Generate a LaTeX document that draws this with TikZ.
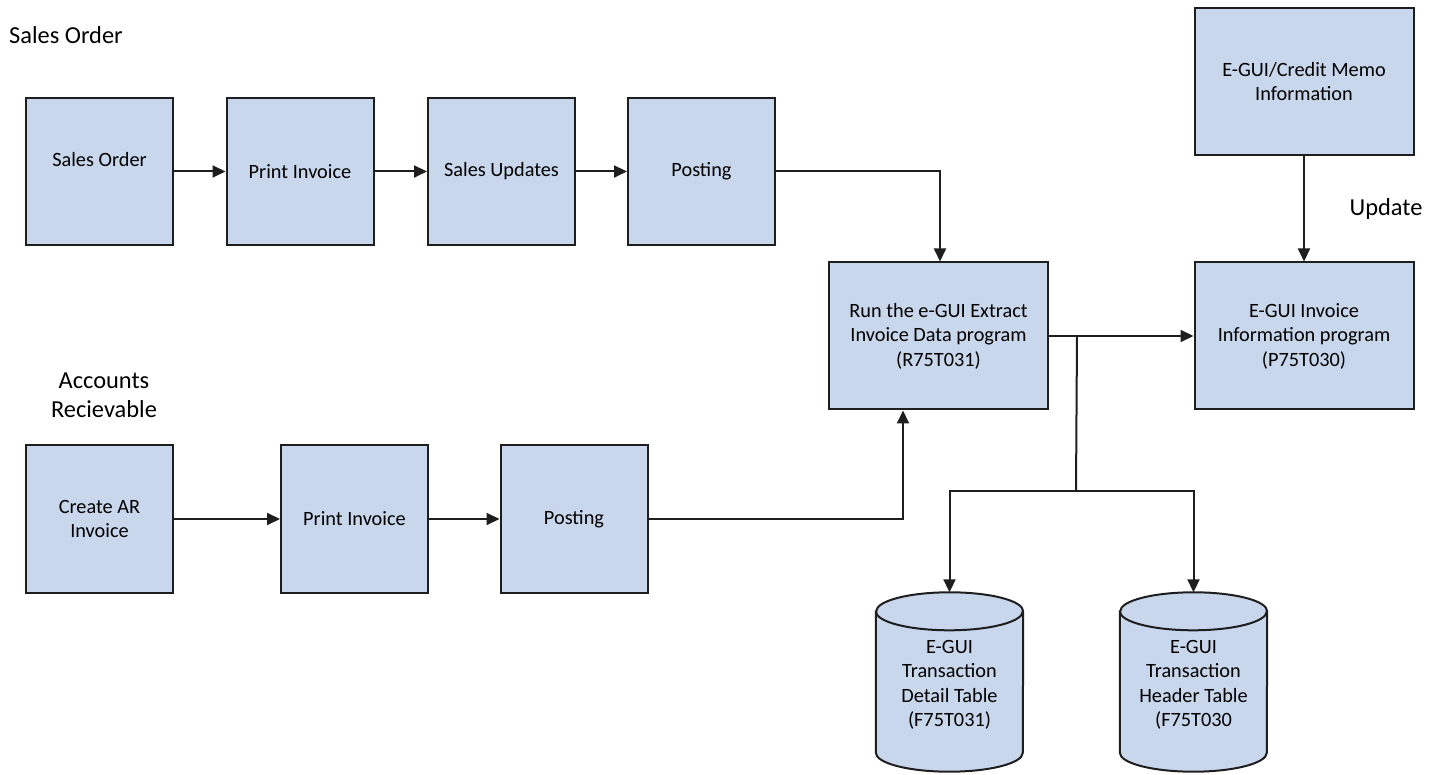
\documentclass[tikz,border=0pt]{standalone}
\usepackage{fontspec}
\setmainfont{Carlito}
\usetikzlibrary{arrows.meta}
\definecolor{boxfill}{RGB}{201,215,236}
\definecolor{ink}{RGB}{30,30,30}
\tikzset{
  procbox/.style={draw=ink, line width=2pt, fill=boxfill, rectangle,
    minimum width=147pt, minimum height=147pt, align=center, inner sep=2pt,
    font=\fontsize{20.3}{24.5}\selectfont},
  widebox/.style={procbox, minimum width=219pt},
  dbtext/.style={rectangle, minimum width=147pt, minimum height=179pt,
    align=center, inner sep=0pt, font=\fontsize{20.3}{24.5}\selectfont},
  dbline/.style={draw=ink, line width=2pt, fill=boxfill},
  arr/.style={draw=ink, line width=2pt, -{Triangle[length=13pt,width=12pt]}},
  link/.style={draw=ink, line width=2pt},
  heading/.style={font=\fontsize{24.4}{29}\selectfont, align=center, inner sep=0pt}
}
% database cylinder drawn around a text node: #1 = node name
\newcommand\dbdrum[1]{%
  \path[dbline] ([yshift=-19pt]#1.north west) -- ([yshift=19pt]#1.south west)
    arc[start angle=180, end angle=0, x radius=73.5, y radius=19]
    -- ([yshift=-19pt]#1.north east)
    arc[start angle=0, end angle=-180, x radius=73.5, y radius=19] -- cycle;
  \draw[link] ([yshift=-19pt]#1.north west)
    arc[start angle=180, end angle=0, x radius=73.5, y radius=19];
}
\begin{document}
\begin{tikzpicture}[x=1pt,y=-1pt]
\useasboundingbox (0,0) rectangle (1441,775);

% section titles
\node[heading, anchor=west] (tso) at (9,35) {Sales Order};
\node[heading] (tar) at (104,395) {Accounts\\Recievable};
\node[heading] (tup) at (1386,209) {Update};

% sales order chain
\node[procbox] (so)  at (99.5,171.5)  {Sales Order\\\mbox{}};
\node[procbox] (pi1) at (300,171.5)   {Print Invoice};
\node[procbox] (su)  at (501.5,171.5) {Sales Updates};
\node[procbox] (po1) at (701.5,171.5) {Posting};

% accounts receivable chain
\node[procbox] (ar)  at (99.5,519)  {Create AR\\Invoice};
\node[procbox] (pi2) at (354.5,519) {Print Invoice};
\node[procbox] (po2) at (574,519)   {Posting};

% e-GUI processing
\node[widebox] (run)  at (938.5,336) {Run the e-GUI Extract\\Invoice Data program\\(R75T031)};
\node[widebox] (info) at (1304,336)  {E-GUI Invoice\\Information program\\(P75T030)};
\node[widebox] (memo) at (1304,81.5) {E-GUI/Credit Memo\\Information};

% tables
\node[dbtext] (tdet) at (949.5,682)  {};
\node[dbtext] (thdr) at (1193.5,682) {};
\dbdrum{tdet}
\dbdrum{thdr}
\node[dbtext] (tdetl) at ([yshift=-5pt]tdet.center) {E-GUI\\Transaction\\Detail Table\\(F75T031)\strut};
\node[dbtext] (thdrl) at ([yshift=-5pt]thdr.center) {E-GUI\\Transaction\\Header Table\\(F75T030\strut};

% connectors
\draw[arr] (so.east) -- (pi1.west);
\draw[arr] (pi1.east) -- (su.west);
\draw[arr] (su.east) -- (po1.west);
\draw[arr] (po1.east) -| ([xshift=1.5pt]run.north);

\draw[arr] (ar.east) -- (pi2.west);
\draw[arr] (pi2.east) -- (po2.west);
\draw[arr] (po2.east) -| ([xshift=-35.5pt]run.south);

\draw[arr] (run.east) -- (info.west);
\draw[arr] (memo.south) -- (info.north);

\coordinate (br) at ([xshift=28pt]run.east);
\coordinate (jn) at (1076,491);
\draw[link] (br) -- (jn);
\draw[arr] (jn) -| (tdet.north);
\draw[arr] (jn) -| (thdr.north);
\end{tikzpicture}
\end{document}
